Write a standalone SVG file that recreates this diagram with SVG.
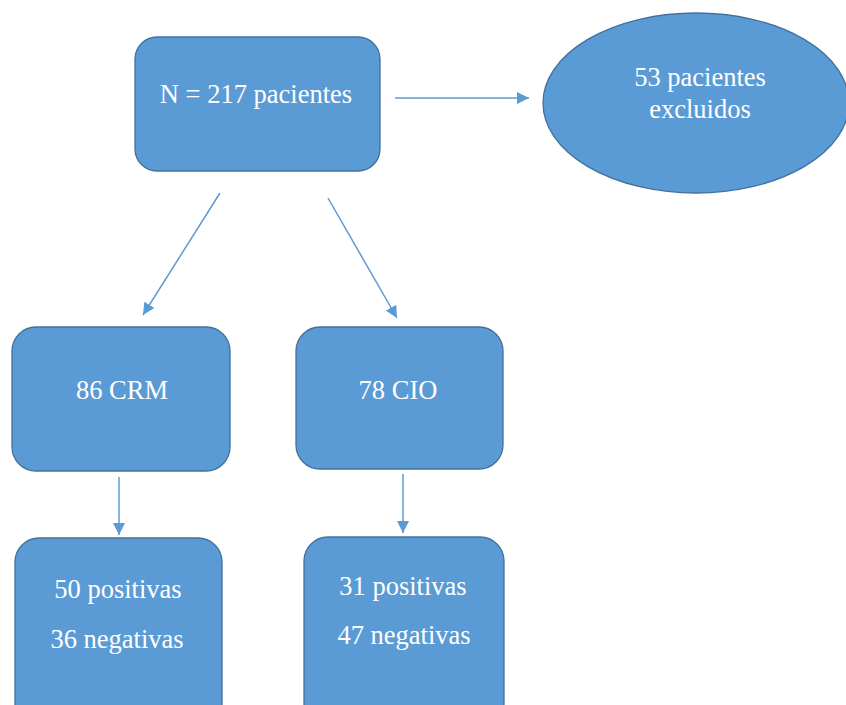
<svg xmlns="http://www.w3.org/2000/svg" width="846" height="705" viewBox="0 0 846 705">
<defs>
<style>
.node{fill:#5B9BD5;stroke:#41719C;stroke-width:1.3}
.t{font-family:"Liberation Serif","Times New Roman",serif;font-size:26.5px;fill:#FFFFFF;text-anchor:middle}
.c{stroke:#5B9BD5;stroke-width:1.5;fill:none;marker-end:url(#ah)}
</style>
<marker id="ah" viewBox="0 0 12 12" refX="12" refY="6" markerWidth="12" markerHeight="12" orient="auto" markerUnits="userSpaceOnUse">
<path d="M0,0 L12,6 L0,12 z" fill="#5B9BD5"/>
</marker>
</defs>
<rect width="846" height="705" fill="#FFFFFF"/>
<g id="connectors">
<line class="c" x1="395" y1="98" x2="529" y2="98"/>
<line class="c" x1="220" y1="193" x2="143" y2="315"/>
<line class="c" x1="328" y1="198" x2="397" y2="318"/>
<line class="c" x1="119" y1="477" x2="119" y2="535"/>
<line class="c" x1="403" y1="474" x2="403" y2="533"/>
</g>
<g id="n-total">
<rect class="node" x="135" y="37" width="245" height="134" rx="22" ry="22"/>
<text class="t" x="256" y="103">N = 217 pacientes</text>
</g>
<g id="n-excluidos">
<ellipse class="node" cx="696" cy="103" rx="153" ry="90"/>
<text class="t" x="700" y="86">53 pacientes</text>
<text class="t" x="700" y="118">excluidos</text>
</g>
<g id="n-crm">
<rect class="node" x="12" y="327" width="218" height="144" rx="24" ry="24"/>
<text class="t" x="122" y="399">86 CRM</text>
</g>
<g id="n-cio">
<rect class="node" x="296" y="327" width="207" height="142" rx="24" ry="24"/>
<text class="t" x="398" y="399">78 CIO</text>
</g>
<g id="n-crm-res">
<rect class="node" x="15" y="538" width="207" height="190" rx="24" ry="24"/>
<text class="t" x="118" y="598">50 positivas</text>
<text class="t" x="117" y="648">36 negativas</text>
</g>
<g id="n-cio-res">
<rect class="node" x="304" y="537" width="200" height="190" rx="24" ry="24"/>
<text class="t" x="403" y="595">31 positivas</text>
<text class="t" x="404" y="644">47 negativas</text>
</g>
</svg>
